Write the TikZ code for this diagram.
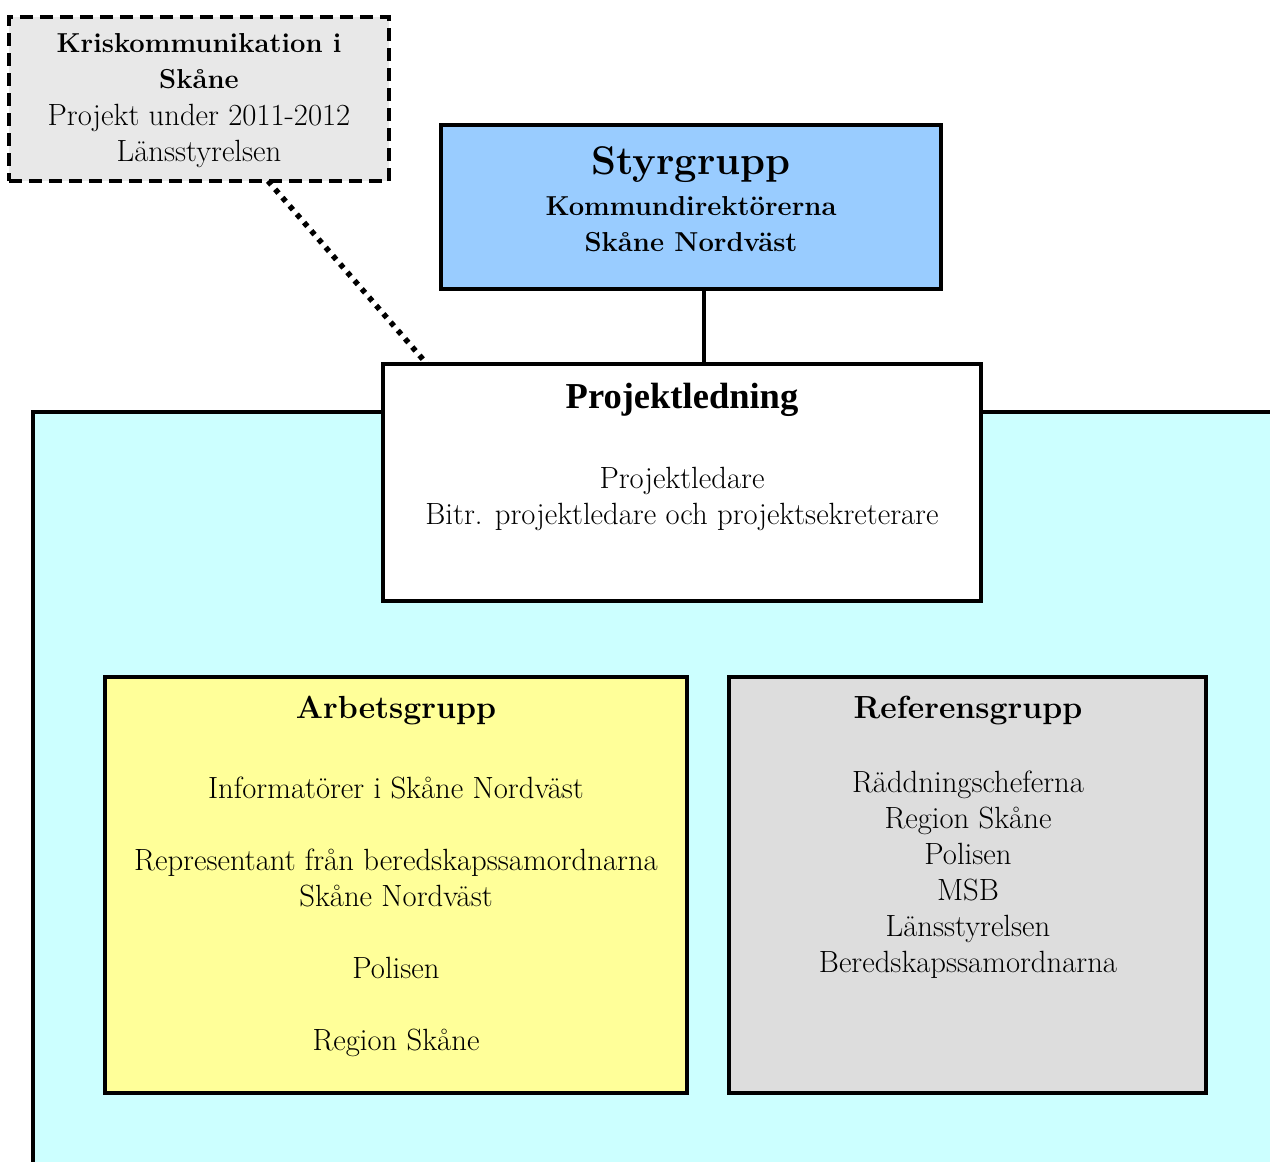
\documentclass[tikz,border=0pt]{standalone}
\usepackage{fontspec}
\newfontfamily\timesfont{Liberation Serif}
\definecolor{skyblue}{RGB}{153,204,255}
\definecolor{paleturq}{RGB}{204,255,255}
\definecolor{paleyellow}{RGB}{255,255,153}
\definecolor{refgray}{RGB}{221,221,221}
\definecolor{krisgray}{RGB}{232,232,232}
\begin{document}
\begin{tikzpicture}[x=1pt,y=-1pt]
          \tikzstyle{group}=[draw=black,line width=4pt,inner sep=0pt,outer sep=0pt,anchor=north west]
          \tikzstyle{head}=[inner sep=0pt,anchor=base,font=\fontsize{32}{36}\selectfont\bfseries]
          \tikzstyle{body}=[inner sep=0pt,anchor=north,align=center,font=\fontsize{30.7}{36}\selectfont]
          \tikzstyle{sub}=[inner sep=0pt,anchor=north,align=center,font=\fontsize{27.4}{36}\selectfont\bfseries]
          \tikzstyle{edge}=[draw,line width=4pt]
          \useasboundingbox (0,0) rectangle (1270,1162);
          \begin{scope}
             \node [group,fill=paleturq,minimum width=1300pt,minimum height=800pt] (main) at (33,412) {};
             \node [group,fill=krisgray,dash pattern=on 13pt off 7pt,minimum width=380pt,minimum height=164pt] (kris) at (9,17) {};
             \node [group,fill=skyblue,minimum width=500pt,minimum height=164pt] (styr) at (441,125) {};
             \node [group,fill=white,minimum width=598pt,minimum height=237pt] (pl) at (383,364) {};
             \node [group,fill=paleyellow,minimum width=582pt,minimum height=416pt] (arb) at (105,677) {};
             \node [group,fill=refgray,minimum width=477pt,minimum height=416pt] (ref) at (729,677) {};
             % texts
             \node [sub] (kristitle) at (199,33) {Kriskommunikation i\\Skåne};
             \node [body] (kristext) at (199,104) {Projekt under 2011-2012\\Länsstyrelsen};
             \node [head,font=\fontsize{40}{44}\selectfont\bfseries] (styrtitle) at (691,174) {Styrgrupp};
             \node [sub] (styrtext) at (691,196) {Kommundirektörerna\\Skåne Nordväst};
             \node [head,font=\fontsize{36.5}{40}\selectfont\timesfont\bfseries] (pltitle) at (682,408) {Projektledning};
             \node [body] (pltext) at (682,467) {Projektledare\\Bitr. projektledare och projektsekreterare};
             \node [head] (arbtitle) at (396,718) {Arbetsgrupp};
             \node [body] (arbtext) at (396,777) {Informatörer i Skåne Nordväst\\[36pt]Representant från beredskapssamordnarna\\Skåne Nordväst\\[36pt]Polisen\\[36pt]Region Skåne};
             \node [head] (reftitle) at (968,718) {Referensgrupp};
             \node [body] (reftext) at (968,771) {Räddningscheferna\\Region Skåne\\Polisen\\MSB\\Länsstyrelsen\\Beredskapssamordnarna};
             % connectors
             \path[edge] ([xshift=13pt]styr.south) -- ([xshift=13pt]styr.south |- pl.north);
             \path[edge,line width=5.5pt,dash pattern=on 5pt off 6pt] ([xshift=69pt]kris.south) -- ([xshift=44pt]pl.north west);
          \end{scope}
        \end{tikzpicture}
\end{document}
